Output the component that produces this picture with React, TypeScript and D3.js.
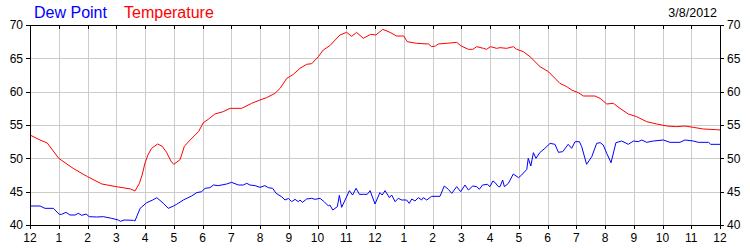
import React from "react";
import * as d3 from "d3";

const hourLabels = ["12","1","2","3","4","5","6","7","8","9","10","11","12","1","2","3","4","5","6","7","8","9","10","11","12"];
const yTicks = [40, 45, 50, 55, 60, 65, 70];
const dateLabel = "3/8/2012";
const seriesNames = ["Dew Point", "Temperature"];

const tempHours = [0,0.35,0.6,1.0,1.5,2.0,2.5,3.0,3.5,3.65,3.8,3.9,4.0,4.1,4.23,4.44,4.6,4.75,4.9,5.0,5.22,5.37,5.57,5.86,6.03,6.2,6.43,6.72,6.96,7.36,7.71,8.0,8.23,8.52,8.7,8.93,9.16,9.39,9.62,9.8,10.03,10.2,10.43,10.78,11.01,11.19,11.36,11.59,11.85,12.03,12.27,12.52,12.75,13.0,13.12,13.45,13.86,13.97,14.1,14.2,14.49,14.84,15.0,15.25,15.4,15.54,15.77,15.88,16.02,16.23,16.35,16.58,16.81,16.93,17.16,17.39,17.74,18.03,18.26,18.43,18.67,18.84,19.07,19.25,19.65,19.83,20.06,20.29,20.52,20.81,21.1,21.45,21.8,22.15,22.49,22.78,23.07,23.42,23.88,24];
const tempValues = [53.5,52.75,52.3,50.0,48.5,47.25,46.15,45.75,45.4,45.1,46.2,47.5,49.3,50.5,51.5,52.15,51.8,50.9,49.6,49.1,49.8,51.8,52.75,54.0,55.35,55.85,56.65,57.0,57.5,57.5,58.25,58.75,59.1,59.75,60.5,62.0,62.6,63.5,64.1,64.2,65.25,66.25,66.9,68.5,68.9,68.3,68.9,68.0,68.6,68.5,69.35,68.9,68.35,68.35,67.5,67.25,67.15,66.75,66.85,67.15,67.25,67.4,66.85,66.35,66.35,66.75,66.5,66.35,66.75,66.5,66.6,66.5,66.75,66.35,66.0,65.25,63.75,63.0,62.0,61.25,60.75,60.25,59.85,59.35,59.35,59.0,58.15,58.25,57.5,56.65,56.25,55.5,55.15,54.85,54.75,54.85,54.65,54.4,54.3,54.25];

const dewHours = [0,0.35,0.52,0.81,1.02,1.1,1.25,1.39,1.57,1.68,1.8,1.95,2.06,2.32,2.55,2.84,3.07,3.15,3.27,3.6,3.65,3.83,4.06,4.27,4.41,4.64,4.81,4.99,5.1,5.33,5.62,5.8,5.97,6.09,6.26,6.38,6.55,6.84,7.01,7.25,7.42,7.54,7.65,7.83,8.0,8.17,8.29,8.44,8.56,8.75,8.87,8.99,9.1,9.22,9.33,9.39,9.48,9.62,9.8,9.91,10.09,10.23,10.38,10.43,10.53,10.69,10.76,10.84,10.96,11.11,11.22,11.34,11.46,11.59,11.73,11.83,12.0,12.17,12.25,12.35,12.5,12.58,12.7,12.81,12.93,13.1,13.19,13.28,13.39,13.51,13.62,13.68,13.8,13.97,14.26,14.41,14.55,14.67,14.84,14.98,15.13,15.25,15.4,15.54,15.63,15.74,15.91,16.0,16.1,16.17,16.29,16.35,16.44,16.5,16.64,16.81,16.99,17.1,17.28,17.33,17.42,17.51,17.6,17.74,17.91,18.09,18.26,18.38,18.53,18.72,18.84,18.96,19.11,19.19,19.36,19.54,19.71,19.83,19.94,20.06,20.21,20.38,20.58,20.81,20.99,21.16,21.28,21.45,21.68,22.03,22.26,22.61,22.78,23.07,23.25,23.6,23.68,24];
const dewValues = [42.85,42.85,42.5,42.5,41.6,41.6,41.9,41.5,41.5,41.75,41.45,41.65,41.25,41.2,41.25,41.0,40.75,40.55,40.75,40.7,40.6,42.5,43.35,43.75,44.1,43.25,42.5,42.85,43.1,43.75,44.35,44.85,45.0,45.5,45.6,46.0,45.9,46.15,46.4,46.0,46.0,46.25,46.0,45.9,45.65,45.9,45.6,45.5,44.75,44.25,43.75,43.98,43.5,43.85,43.5,43.75,43.4,43.9,44.0,43.85,44.0,43.5,42.85,43.0,42.25,42.75,44.45,42.65,43.75,45.15,44.5,45.5,44.6,44.6,44.6,45.15,43.15,44.85,44.5,45.15,44.1,44.5,43.5,44.0,43.75,43.75,43.25,43.9,43.6,44.1,43.75,44.1,43.75,44.3,44.3,45.85,45.35,44.75,45.75,45.0,46.0,45.25,45.85,45.75,45.35,46.0,46.1,45.75,46.6,46.4,45.75,45.75,46.75,45.75,46.25,47.65,47.1,47.5,48.35,50.0,48.85,50.85,50.0,50.9,51.5,52.25,52.1,50.9,51.0,52.1,51.5,52.5,52.5,51.75,49.1,50.25,52.25,52.35,52.0,50.75,49.35,52.35,52.6,52.1,52.6,52.5,52.75,52.4,52.6,52.75,52.4,52.4,52.75,52.6,52.4,52.4,52.1,52.1];

const W = 750, H = 250;
const L = 30, R = 720, T = 25, B = 225;
const FONT = "'Liberation Sans', Arial, sans-serif";

export default function App() {
  const x = d3.scaleLinear().domain([0, 24]).range([L, R]);
  const y = d3.scaleLinear().domain([40, 70]).range([B, T]);
  const tempData = tempHours.map((h, i) => [h, tempValues[i]] as [number, number]);
  const dewData = dewHours.map((h, i) => [h, dewValues[i]] as [number, number]);
  const line = d3.line<[number, number]>().x(d => x(d[0])).y(d => y(d[1]));
  const px = (v: number) => Math.round(v) + 0.5;
  const hours = d3.range(0, 25);

  return (
    <svg width={W} height={H} style={{ position: "absolute", left: 0, top: 0, background: "#fff" }} fontFamily={FONT}>
      <rect x={0} y={0} width={W} height={H} fill="#fff" />
      {/* grid */}
      {hours.slice(1, 24).map(h => (
        <line key={"gv" + h} x1={px(x(h))} x2={px(x(h))} y1={T} y2={B} stroke="#cccccc" strokeWidth={1} />
      ))}
      {yTicks.slice(1, -1).map(v => (
        <line key={"gh" + v} x1={L} x2={R} y1={px(y(v))} y2={px(y(v))} stroke="#cccccc" strokeWidth={1} />
      ))}
      {/* data */}
      <path d={line(dewData) || ""} fill="none" stroke="#0000ff" strokeWidth={1} />
      <path d={line(tempData) || ""} fill="none" stroke="#ff0000" strokeWidth={1} />
      {/* frame */}
      <rect x={px(L)} y={px(T)} width={Math.round(R) - Math.round(L)} height={Math.round(B) - Math.round(T)} fill="none" stroke="#000" strokeWidth={1} />
      {/* top ticks (inward) */}
      {hours.map(h => (
        <line key={"tt" + h} x1={px(x(h))} x2={px(x(h))} y1={T} y2={T + 4} stroke="#000" />
      ))}
      {/* bottom ticks */}
      {hours.map(h => (
        <line key={"bt" + h} x1={px(x(h))} x2={px(x(h))} y1={B} y2={B + 4} stroke="#000" />
      ))}
      {/* y ticks */}
      {yTicks.map(v => (
        <g key={"yt" + v}>
          <line x1={L - 4} x2={L} y1={px(y(v))} y2={px(y(v))} stroke="#000" />
          <line x1={R} x2={R + 4} y1={px(y(v))} y2={px(y(v))} stroke="#000" />
          <text x={L - 7} y={y(v)} dy="0.36em" textAnchor="end" fontSize={12} fill="#000">{v}</text>
          <text x={R + 7} y={y(v)} dy="0.36em" textAnchor="start" fontSize={12} fill="#000">{v}</text>
        </g>
      ))}
      {/* x labels */}
      {hourLabels.map((lab, i) => (
        <text key={"xl" + i} x={x(i)} y={242} textAnchor="middle" fontSize={12} fill="#000">{lab}</text>
      ))}
      {/* legend / title */}
      <text x={34} y={18} fontSize={16} fill="#0000ff">{seriesNames[0]}</text>
      <text x={124} y={18} fontSize={16} fill="#ff0000">{seriesNames[1]}</text>
      <text x={717} y={17} textAnchor="end" fontSize={12.5} fill="#000">{dateLabel}</text>
    </svg>
  );
}
